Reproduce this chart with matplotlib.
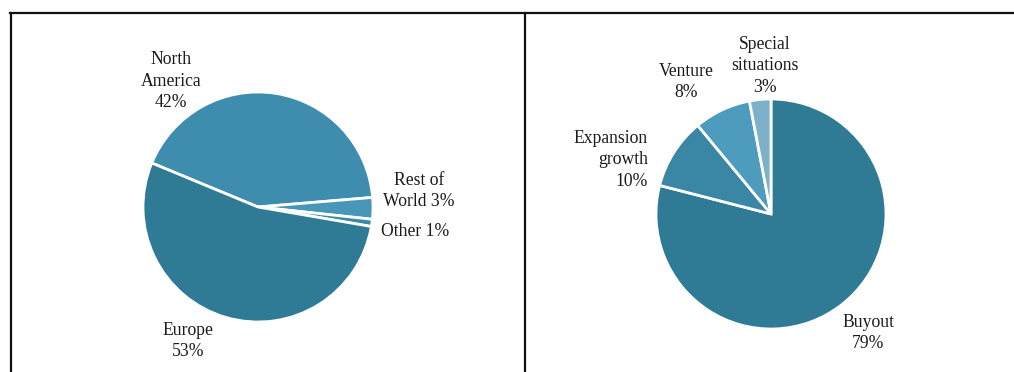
import matplotlib
matplotlib.use("Agg")
import matplotlib.pyplot as plt
from matplotlib.lines import Line2D

# ---- data ----
region_labels = ["North\nAmerica\n42%", "Rest of\nWorld 3%", "Other 1%", "Europe\n53%"]
region_values = [42, 3, 1, 53]
region_colors = ["#3e8cae", "#4896b8", "#3d89a9", "#2f7b96"]

strategy_labels = ["Buyout\n79%", "Expansion\ngrowth\n10%", "Venture\n8%", "Special\nsituations\n3%"]
strategy_values = [79, 10, 8, 3]
strategy_colors = ["#2f7b96", "#3a86a5", "#4e9cbd", "#7db1ca"]

W, H = 1014, 372
fig = plt.figure(figsize=(W / 100, H / 100), dpi=100)
fig.patch.set_facecolor("white")

FONT = "Liberation Serif"
FS = 12.7
R = 115
LS = 1.34


def pie_axes(cx, cy):
    ax = fig.add_axes([(cx - R) / W, (H - cy - R) / H, 2 * R / W, 2 * R / H])
    ax.set_xlim(-1, 1)
    ax.set_ylim(-1, 1)
    ax.set_aspect("equal")
    ax.axis("off")
    return ax


def px_to_data(cx, cy, px, py):
    return (px - cx) / R, (cy - py) / R


# ---- left pie ----
lcx, lcy = 258, 207
ax1 = pie_axes(lcx, lcy)
ax1.pie(region_values, colors=region_colors, startangle=157.5, counterclock=False,
        radius=1, wedgeprops=dict(edgecolor="white", linewidth=2.0),
        frame=False)
ax1.set_xlim(-1, 1)
ax1.set_ylim(-1, 1)
left_pos = [(171, 81, "center"), (419, 191, "center"), (415, 231, "center"), (188, 341, "center")]
for lab, (px, py, ha) in zip(region_labels, left_pos):
    x, y = px_to_data(lcx, lcy, px, py)
    ax1.text(x, y, lab, ha=ha, va="center", family=FONT, fontsize=FS,
             color="#1a1a1a", linespacing=LS, clip_on=False)

# ---- right pie ----
rcx, rcy = 771, 214
ax2 = pie_axes(rcx, rcy)
ax2.pie(strategy_values, colors=strategy_colors, startangle=90, counterclock=False,
        radius=1, wedgeprops=dict(edgecolor="white", linewidth=2.0),
        frame=False)
ax2.set_xlim(-1, 1)
ax2.set_ylim(-1, 1)
right_pos = [(868, 333, "center"), (648, 160, "right"), (686, 82, "center"), (765, 66, "center")]
for lab, (px, py, ha) in zip(strategy_labels, right_pos):
    x, y = px_to_data(rcx, rcy, px, py)
    ax2.text(x, y, lab, ha=ha, va="center", family=FONT, fontsize=FS,
             color="#1a1a1a", linespacing=LS, clip_on=False,
             multialignment=ha)

# ---- frame lines ----
def fline(x0, y0, x1, y1):
    fig.add_artist(Line2D([x0 / W, x1 / W], [1 - y0 / H, 1 - y1 / H],
                          transform=fig.transFigure, color="#111111", linewidth=1.6))

fline(10, 13, W, 13)
fline(11, 13, 11, H)
fline(525, 13, 525, H)

fig.savefig("out.png", dpi=100, facecolor="white")
